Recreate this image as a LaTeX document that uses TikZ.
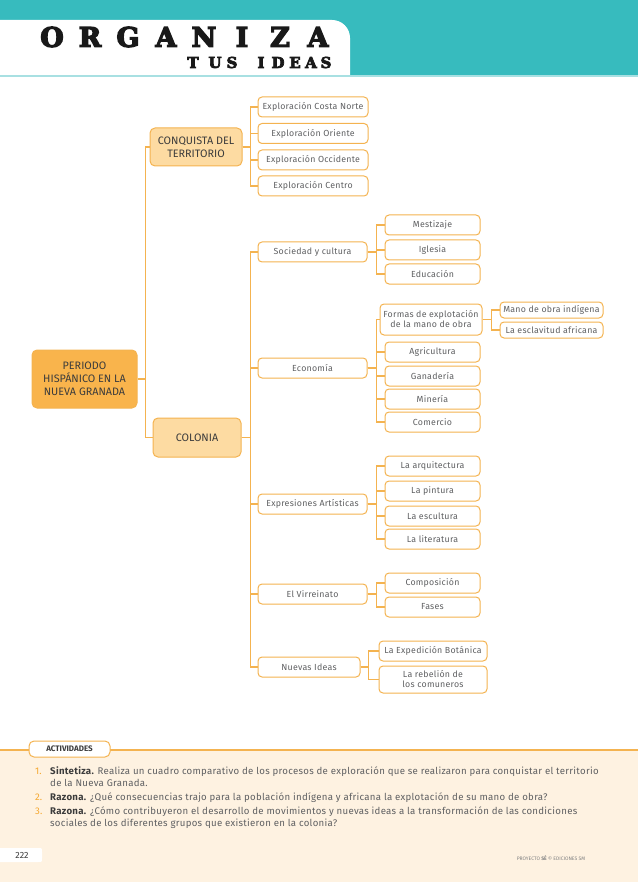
\documentclass[tikz,border=0pt]{standalone}
\usepackage{fontspec}
\setmainfont{Fira Sans}
\newfontfamily\slabfont{DejaVu Serif}
\newfontfamily\thinfont[LetterSpace=3]{Fira Sans}
\newcommand\heavytext[2]{\special{pdf:literal direct 2 Tr #1 w}#2\special{pdf:literal direct 0 Tr}}
\newcommand\topstrut{\rule{0pt}{10pt}}
\definecolor{barteal}{HTML}{37BBBE}
\definecolor{lightteal}{HTML}{A8E0E2}
\definecolor{lineorange}{HTML}{F4B350}
\definecolor{darkfill}{HTML}{F9B44C}
\definecolor{lightfill}{HTML}{FDDBA2}
\definecolor{cream}{HTML}{FEF2E1}
\definecolor{textgray}{HTML}{5F6062}
\definecolor{darktext}{HTML}{3C3C3C}
\definecolor{numorange}{HTML}{F5A830}
\begin{document}
\begin{tikzpicture}[x=1pt,y=-1pt,
	link/.style={draw=lineorange,line width=1.8pt},
	box/.style={draw=lineorange,line width=1pt,rounded corners=4pt,fill=white,text=textgray,
		font=\thinfont\fontsize{8.8}{10}\selectfont,inner sep=1pt,align=center,minimum height=20pt},
	bigbox/.style={box,draw=lineorange,text=darktext,font=\fontsize{10.8}{13}\selectfont,rounded corners=5pt},
	topic/.style={box,minimum width=109pt},
	leaf/.style={box,minimum width=95pt},
	item/.style={anchor=north west,inner sep=0pt,align=left,text=textgray,font=\thinfont\fontsize{9.65}{12}\selectfont},
	num/.style={anchor=north west,inner sep=0pt,text=numorange,font=\fontsize{9.65}{12}\selectfont},
	letter/.style={font=\slabfont\bfseries\fontsize{#1}{#1}\selectfont,text=black!90,inner sep=0pt}]
	\useasboundingbox (0,0) rectangle (638,882);
	% cabecera
	\fill[barteal] (0,0) rectangle (638,75);
	\fill[white] (0,75) -- (0,20) -- (332,20) .. controls (342,20) and (350,28) .. (350,38) -- (350,75) -- cycle;
	\fill[lightteal] (0,75) rectangle (638,77);
	\foreach \l/\x [count=\i] in {O/52,R/90,G/128,A/166,N/204,I/242,Z/280,A/318}
		\node[letter=27] (big\i) at (\x,37) {\heavytext{1.3}{\l}};
	\foreach \l/\x [count=\i] in {T/193,U/215,S/232,I/261,D/278,E/295,A/311,S/326}
		\node[letter=15] (small\i) at (\x,62.5) {\heavytext{0.7}{\l}};
	% mapa
	\node[bigbox,fill=darkfill,minimum width=105pt,minimum height=58pt] (periodo) at (84.5,379) {PERIODO\\HISPÁNICO EN LA\\NUEVA GRANADA};
	\node[bigbox,fill=lightfill,minimum width=92pt,minimum height=38pt] (conquista) at (196,147) {CONQUISTA DEL\\TERRITORIO};
	\node[bigbox,fill=lightfill,minimum width=88pt,minimum height=39pt] (colonia) at (197,437.5) {COLONIA};
	\node[box,minimum width=110pt] (costa) at (313,107) {Exploración Costa Norte};
	\node[box,minimum width=110pt] (oriente) at (313,133.5) {Exploración Oriente};
	\node[box,minimum width=110pt] (occidente) at (313,160) {Exploración Occidente};
	\node[box,minimum width=110pt] (centro) at (313,186) {Exploración Centro};
	\node[topic] (sociedad) at (312.5,252) {Sociedad y cultura};
	\node[topic] (economia) at (312.5,368) {Economía};
	\node[topic] (expresiones) at (312.5,504) {Expresiones Artísticas};
	\node[topic] (virreinato) at (312.5,594) {El Virreinato};
	\node[box,minimum width=102pt] (nuevas) at (309,667) {Nuevas Ideas};
	\node[leaf] (mestizaje) at (432.5,225) {Mestizaje};
	\node[leaf] (iglesia) at (432.5,250) {Iglesia};
	\node[leaf] (educacion) at (432.5,274) {Educación};
	\node[box,minimum width=102pt,minimum height=31pt] (formas) at (431,319.5) {Formas de explotación\\de la mano de obra};
	\node[leaf] (agricultura) at (432.5,352) {Agricultura};
	\node[leaf] (ganaderia) at (432.5,376) {Ganadería};
	\node[leaf] (mineria) at (432.5,399) {Minería};
	\node[leaf] (comercio) at (432.5,422) {Comercio};
	\node[box,minimum width=103pt,minimum height=16pt] (indigena) at (551.5,310) {Mano de obra indígena};
	\node[box,minimum width=103pt,minimum height=16pt] (esclavitud) at (551.5,330) {La esclavitud africana};
	\node[leaf] (arquitectura) at (432.5,466) {La arquitectura};
	\node[leaf] (pintura) at (432.5,491) {La pintura};
	\node[leaf] (escultura) at (432.5,516) {La escultura};
	\node[leaf] (literatura) at (432.5,539) {La literatura};
	\node[leaf] (composicion) at (432.5,583) {Composición};
	\node[leaf] (fases) at (432.5,607) {Fases};
	\node[box,minimum width=108pt] (botanica) at (433,651) {La Expedición Botánica};
	\node[box,minimum width=108pt,minimum height=27pt] (rebelion) at (433,679.5) {La rebelión de\\los comuneros};
	% conectores
	\foreach \c in {conquista,colonia}
		\draw[link] (periodo.east) -- ++(8,0) |- (\c.west);
	\foreach \c in {costa,oriente,occidente,centro}
		\draw[link] (conquista.east) -- ++(8,0) |- (\c.west);
	\foreach \c in {sociedad,economia,expresiones,virreinato,nuevas}
		\draw[link] (colonia.east) -- ++(9,0) |- (\c.west);
	\foreach \c in {mestizaje,iglesia,educacion}
		\draw[link] (sociedad.east) -- ++(9,0) |- (\c.west);
	\foreach \c in {formas,agricultura,ganaderia,mineria,comercio}
		\draw[link] (economia.east) -- ++(9,0) |- (\c.west);
	\foreach \c in {indigena,esclavitud}
		\draw[link] (formas.east) -- ++(9,0) |- (\c.west);
	\foreach \c in {arquitectura,pintura,escultura,literatura}
		\draw[link] (expresiones.east) -- ++(9,0) |- (\c.west);
	\foreach \c in {composicion,fases}
		\draw[link] (virreinato.east) -- ++(9,0) |- (\c.west);
	\foreach \c in {botanica,rebelion}
		\draw[link] (nuevas.east) -- ++(8,0) |- (\c.west);
	% actividades
	\fill[cream] (0,750) rectangle (638,882);
	\draw[lineorange,line width=1.2pt] (0,750) -- (638,750);
	\node[draw=lineorange,line width=1pt,fill=white,rounded corners=5pt,minimum width=81pt,minimum height=16pt,
		inner sep=0pt,text=darktext,font=\bfseries\fontsize{8}{8}\selectfont] (act) at (69.5,749) {ACTIVIDADES};
	\node[num] (n1) at (35,764.5) {\topstrut1.};
	\node[item] (t1) at (50,764.5) {\topstrut{\bfseries\color{darktext}Sintetiza.} Realiza un cuadro comparativo de los procesos de exploración que se realizaron para conquistar el territorio\\de la Nueva Granada.};
	\node[num] (n2) at (35,790.5) {\topstrut2.};
	\node[item] (t2) at (50,790.5) {\topstrut{\bfseries\color{darktext}Razona.} ¿Qué consecuencias trajo para la población indígena y africana la explotación de su mano de obra?};
	\node[num] (n3) at (35,804.5) {\topstrut3.};
	\node[item] (t3) at (50,804.5) {\topstrut{\bfseries\color{darktext}Razona.} ¿Cómo contribuyeron el desarrollo de movimientos y nuevas ideas a la transformación de las condiciones\\sociales de los diferentes grupos que existieron en la colonia?};
	% pie
	\fill[white] (0,848) -- (38,848) .. controls (42,848) and (42,848) .. (42,852) -- (42,858) .. controls (42,862) and (42,862) .. (38,862) -- (0,862) -- cycle;
	\node[font=\fontsize{9}{9}\selectfont,text=darktext,inner sep=0pt] (page) at (22,855) {222};
	\node[font=\fontsize{5}{6}\selectfont,text=textgray!80,inner sep=0pt] (credit) at (551,858) {PROYECTO \textbf{SÉ} © EDICIONES SM};
\end{tikzpicture}
\end{document}
